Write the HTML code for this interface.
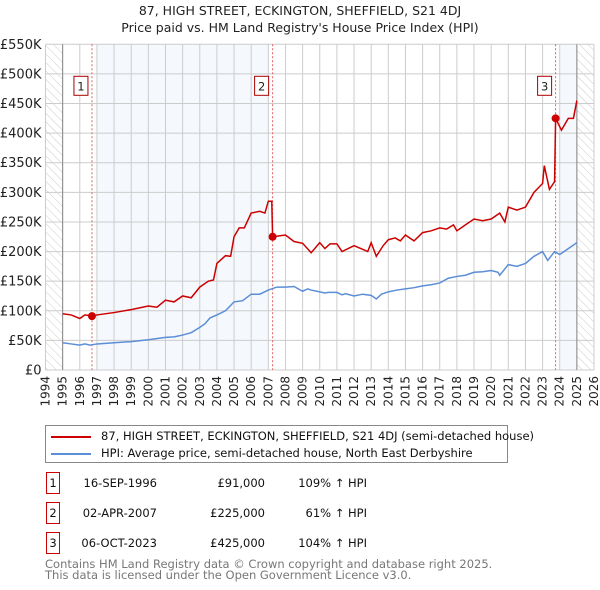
<!DOCTYPE html>
<html><head><meta charset="utf-8"><style>
body{margin:0;background:#fff;font-family:"Liberation Sans","DejaVu Sans",sans-serif;}
#wrap{position:relative;width:600px;height:590px;overflow:hidden;}
svg text{font-family:"DejaVu Sans","Liberation Sans",sans-serif;}
</style></head><body><div id="wrap">
<svg id="chart" width="600" height="590">
<defs><pattern id="hatch" width="6" height="6" patternUnits="userSpaceOnUse" patternTransform="rotate(-45)"><line x1="0" y1="0" x2="0" y2="6" stroke="#ccc" stroke-width="1"/></pattern></defs>
<text x="300" y="15" text-anchor="middle" font-size="12.5" fill="#222">87, HIGH STREET, ECKINGTON, SHEFFIELD, S21 4DJ</text>
<text x="300" y="32" text-anchor="middle" font-size="12.5" fill="#222">Price paid vs. HM Land Registry's House Price Index (HPI)</text>
<g id="grid"></g><g id="marks"></g>
</svg>
<div style="position:absolute;left:45px;top:425px;width:461px;height:36px;border:1px solid #888;font-size:11.5px;color:#111;font-family:'DejaVu Sans',sans-serif">
<div style="position:absolute;left:5px;top:3px;white-space:nowrap"><span style="display:inline-block;width:40px;height:2px;background:#cc0000;vertical-align:middle;margin-right:10px"></span>87, HIGH STREET, ECKINGTON, SHEFFIELD, S21 4DJ (semi-detached house)</div>
<div style="position:absolute;left:5px;top:20px;white-space:nowrap"><span style="display:inline-block;width:40px;height:2px;background:#5b8ed6;vertical-align:middle;margin-right:10px"></span>HPI: Average price, semi-detached house, North East Derbyshire</div>
</div>
<div id="table" style="font-family:'DejaVu Sans',sans-serif;font-size:11.5px;color:#111"></div>
<div style="position:absolute;left:45px;top:559px;font-size:11.5px;color:#777;line-height:11px;font-family:'DejaVu Sans',sans-serif">Contains HM Land Registry data © Crown copyright and database right 2025.<br>This data is licensed under the Open Government Licence v3.0.</div>
</div>
<script>
const yTicks=[0,50,100,150,200,250,300,350,400,450,500,550];
const yLabels=["£0","£50K","£100K","£150K","£200K","£250K","£300K","£350K","£400K","£450K","£500K","£550K"];
const xYears=[1994,1995,1996,1997,1998,1999,2000,2001,2002,2003,2004,2005,2006,2007,2008,2009,2010,2011,2012,2013,2014,2015,2016,2017,2018,2019,2020,2021,2022,2023,2024,2025,2026];
const hpiT=[1995,1995.5,1996,1996.3,1996.6,1997,1998,1999,2000,2001,2001.5,2002,2002.5,2003,2003.3,2003.6,2004,2004.5,2005,2005.5,2006,2006.5,2007,2007.5,2008,2008.5,2009,2009.3,2009.5,2010,2010.3,2010.5,2011,2011.3,2011.5,2012,2012.5,2013,2013.3,2013.6,2014,2014.5,2015,2015.5,2016,2016.5,2017,2017.5,2018,2018.5,2019,2019.5,2020,2020.4,2020.5,2021,2021.5,2022,2022.5,2023,2023.3,2023.7,2024,2024.5,2025];
const hpiV=[46,44,42,44,42,44,46,48,51,55,56,59,63,72,78,88,93,100,115,117,128,128,135,140,140,141,133,137,135,132,130,131,131,127,129,125,128,126,120,128,132,135,137,139,142,144,147,155,158,160,165,166,168,165,160,178,175,180,192,200,185,200,195,205,215];
const redT=[1995,1995.5,1996,1996.3,1996.71,1997,1998,1999,2000,2000.5,2001,2001.5,2002,2002.5,2003,2003.5,2003.8,2004,2004.5,2004.8,2005,2005.3,2005.6,2006,2006.5,2006.8,2007.0,2007.2,2007.25,2008,2008.5,2009,2009.5,2010,2010.3,2010.6,2011,2011.3,2012,2012.4,2012.8,2013,2013.3,2013.7,2014,2014.4,2014.7,2015,2015.5,2016,2016.5,2017,2017.4,2017.8,2018,2018.5,2019,2019.5,2020,2020.5,2020.8,2021,2021.5,2022,2022.5,2023,2023.1,2023.4,2023.7,2023.76,2024.1,2024.5,2024.8,2025];
const redV=[95,93,87,93,91,93,97,102,108,106,118,115,125,122,140,150,152,180,193,192,225,240,240,265,268,265,285,285,225,228,217,214,198,215,205,213,213,200,210,205,200,215,192,210,220,223,218,228,218,232,235,240,238,245,235,245,255,252,255,265,250,275,270,275,300,315,345,305,318,425,405,425,425,455];
const saleT=[1996.71,2007.25,2023.76];
const saleV=[91,225,425];
const saleLabels=["1","2","3"];
const saleDates=["16-SEP-1996","02-APR-2007","06-OCT-2023"];
const salePrices=["£91,000","£225,000","£425,000"];
const salePct=["109% ↑ HPI","61% ↑ HPI","104% ↑ HPI"];

const X0=45.5,X1=594,Y0=370,Y1=44.3;
const xs=t=>X0+(t-1994)*(X1-X0)/32;
const ys=v=>Y0-v*(Y0-Y1)/550;
const NS="http://www.w3.org/2000/svg";
const grid=document.getElementById('grid'),marks=document.getElementById('marks');
function mk(p,tag,a){const e=document.createElementNS(NS,tag);for(const k in a)e.setAttribute(k,a[k]);p.appendChild(e);return e;}
let r;
r=mk(grid,'rect',{x:xs(1997),y:Y1,width:xs(2007)-xs(1997),height:Y0-Y1,fill:'#eef3fc',opacity:0.6});

r=mk(grid,'rect',{x:xs(2024),y:Y1,width:xs(2025)-xs(2024),height:Y0-Y1,fill:'#eef3fc',opacity:0.6});

r=mk(grid,'rect',{x:xs(1994),y:Y1,width:xs(1995)-xs(1994),height:Y0-Y1,fill:'url(#hatch)'});

r=mk(grid,'rect',{x:xs(2025),y:Y1,width:xs(2026)-xs(2025),height:Y0-Y1,fill:'url(#hatch)'});

yTicks.forEach((v,i)=>{
 let l=mk(grid,'line',{x1:X0,x2:X1,y1:ys(v),y2:ys(v),stroke:'#ccc','stroke-width':1});
 
 let t=mk(grid,'text',{x:X0-4,y:ys(v)+4.5,'text-anchor':'end','font-size':13,fill:'#222'});t.textContent=yLabels[i];
 
});
xYears.forEach(y=>{
 let l=mk(grid,'line',{x1:xs(y),x2:xs(y),y1:Y1,y2:Y0,stroke:'#ccc','stroke-width':1});
 
 let t=mk(grid,'text',{x:0,y:0,'text-anchor':'end','font-size':12,fill:'#222',transform:`translate(${xs(y)+4},${Y0+6}) rotate(-90)`});t.textContent=y;
 
});
r=mk(grid,'line',{x1:xs(1995),x2:xs(1995),y1:Y1,y2:Y0,stroke:'#888'});

r=mk(grid,'line',{x1:xs(2025),x2:xs(2025),y1:Y1,y2:Y0,stroke:'#888'});

saleT.forEach((t,i)=>{
 let l=mk(marks,'line',{x1:xs(t),x2:xs(t),y1:Y1,y2:Y0,stroke:'#e06060','stroke-dasharray':'2,2','stroke-width':1});
 
});
let p=mk(marks,'polyline',{points:hpiT.map((t,i)=>xs(t)+','+ys(hpiV[i])).join(' '),fill:'none',stroke:'#5b8ed6','stroke-width':1.5});

p=mk(marks,'polyline',{points:redT.map((t,i)=>xs(t)+','+ys(redV[i])).join(' '),fill:'none',stroke:'#cc0000','stroke-width':1.5});

saleT.forEach((t,i)=>{
 let c=mk(marks,'circle',{cx:xs(t),cy:ys(saleV[i]),r:4,fill:'#cc0000'});
 
 let b=mk(marks,'rect',{x:xs(t)-18,y:Y1+32,width:14,height:19,fill:'#fff',stroke:'#aa0000'});
 
 let tx=mk(marks,'text',{x:xs(t)-11,y:Y1+46,'text-anchor':'middle','font-size':11.5,fill:'#222'});tx.textContent=saleLabels[i];
 
});
const tb=document.getElementById('table');
saleLabels.forEach((s,i)=>{
 const top=472+i*30;
 const row=document.createElement('div');
 
 
 row.style.cssText=`position:absolute;left:0;top:${top}px;width:600px;height:22px`;
 row.innerHTML=`<div style="position:absolute;left:46px;top:0;width:12px;height:20px;border:1px solid #cc0000;text-align:center;line-height:20px">${s}</div>
<div style="position:absolute;right:${600-157}px;top:4px">${saleDates[i]}</div>
<div style="position:absolute;right:${600-265}px;top:4px">${salePrices[i]}</div>
<div style="position:absolute;right:${600-367}px;top:4px;white-space:nowrap">${salePct[i]}</div>`;
 tb.appendChild(row);
});
</script></body></html>
